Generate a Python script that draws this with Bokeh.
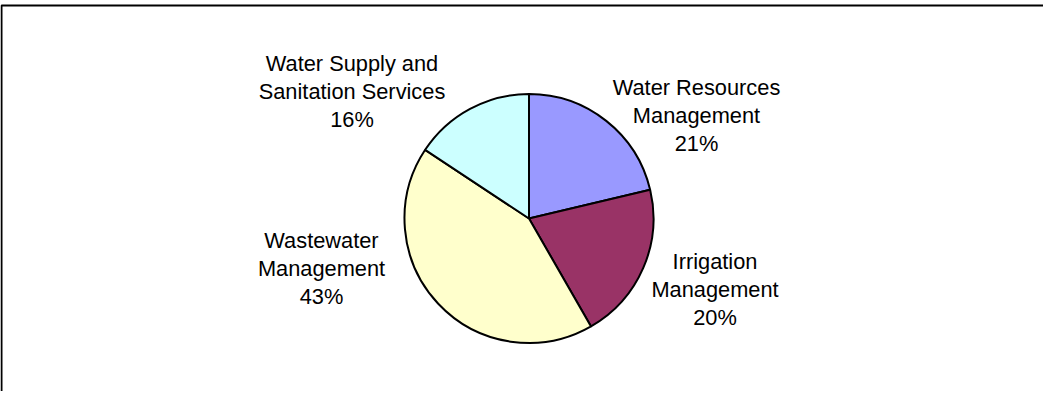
import math
from bokeh.plotting import figure
from bokeh.models import Range1d, ColumnDataSource
from bokeh.core.properties import value
from bokeh.embed import file_html
from bokeh.resources import INLINE

# ---- data ----
categories = ["Water Resources\nManagement", "Irrigation\nManagement",
              "Wastewater\nManagement", "Water Supply and\nSanitation Services"]
shares = [21.3, 20.4, 42.6, 15.7]
colors = ["#9999FF", "#993366", "#FFFFCC", "#CCFFFF"]

# ---- layout (pixel-like units, pie centre at origin) ----
W, H = 1043, 391
CX, CY = 528.5, 218.0          # pie centre inside the canvas
R = 124.5
label_offsets = [(167.5, 103.0), (186.0, -71.2), (-207.5, -49.5), (-177.0, 127.0)]

total = sum(shares)
starts, ends, cum = [], [], 0.0
for s in shares:
    starts.append(math.pi / 2 - 2 * math.pi * cum / total)
    cum += s
    ends.append(math.pi / 2 - 2 * math.pi * cum / total)

p = figure(width=W, height=H, output_backend="svg", toolbar_location=None,
           x_range=Range1d(-CX, W - CX), y_range=Range1d(CY - H, CY),
           min_border=0, outline_line_color=None)
p.axis.visible = False
p.grid.visible = False
p.background_fill_color = "white"
p.border_fill_color = "white"

src = ColumnDataSource(dict(start=starts, end=ends, color=colors))
p.wedge(x=0, y=0, radius=R, start_angle="start", end_angle="end",
        direction="clock", fill_color="color", line_color="black",
        line_width=2, source=src)

labels = [f"{c}\n{s:.0f}%" for c, s in zip(categories, shares)]
lsrc = ColumnDataSource(dict(x=[o[0] for o in label_offsets],
                             y=[o[1] for o in label_offsets], text=labels))
p.text(x="x", y="y", text="text", source=lsrc, text_align="center",
       text_baseline="middle", text_font=value("Liberation Sans"),
       text_font_size="21.8px", text_line_height=1.12, text_color="black")

# chart-area border (left and top edges visible)
left_x = -CX + 1
top_y = CY - 5
p.line(x=[left_x, left_x, W], y=[-2 * H, top_y, top_y], line_color="black",
       line_width=2)

open("out.html", "w").write(file_html(p, INLINE))
